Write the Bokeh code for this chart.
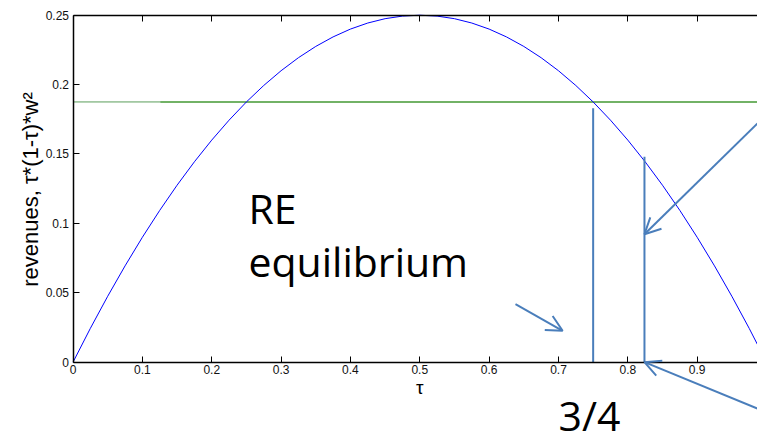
import math
from bokeh.plotting import figure
from bokeh.models import Range1d, LinearAxis, FixedTicker, Label, Arrow, OpenHead
from bokeh.embed import file_html
from bokeh.resources import INLINE

# --- data ---
tau = [0.0, 0.025, 0.05, 0.075, 0.1, 0.125, 0.15, 0.175, 0.2, 0.225, 0.25,
       0.275, 0.3, 0.325, 0.35, 0.375, 0.4, 0.425, 0.45, 0.475, 0.5,
       0.525, 0.55, 0.575, 0.6, 0.625, 0.65, 0.675, 0.7, 0.725, 0.75,
       0.775, 0.8, 0.825, 0.85, 0.875, 0.9, 0.925, 0.95, 0.975, 1.0]
revenue = [0.0, 0.024375, 0.0475, 0.069375, 0.09, 0.109375, 0.1275, 0.144375, 0.16, 0.174375, 0.1875,
           0.199375, 0.21, 0.219375, 0.2275, 0.234375, 0.24, 0.244375, 0.2475, 0.249375, 0.25,
           0.249375, 0.2475, 0.244375, 0.24, 0.234375, 0.2275, 0.219375, 0.21, 0.199375, 0.1875,
           0.174375, 0.16, 0.144375, 0.1275, 0.109375, 0.09, 0.069375, 0.0475, 0.024375, 0.0]

x_ticks = [0, 0.1, 0.2, 0.3, 0.4, 0.5, 0.6, 0.7, 0.8, 0.9]
x_tick_labels = ["0", "0.1", "0.2", "0.3", "0.4", "0.5", "0.6", "0.7", "0.8", "0.9"]
y_ticks = [0, 0.05, 0.1, 0.15, 0.2, 0.25]
y_tick_labels = ["0", "0.05", "0.1", "0.15", "0.2", "0.25"]

green_level = 0.1875
green_thin_x = [0.0, 0.987]
green_thick_x = [0.126, 0.987]

vline_x = [0.75, 0.824]
vline_top = [0.183, 0.148]

arrow_x_start = [0.987, 0.638, 0.987]
arrow_y_start = [0.172, 0.0418, -0.0334]
arrow_x_end = [0.824, 0.706, 0.824]
arrow_y_end = [0.0922, 0.0226, 0.0]

texts = ["RE", "equilibrium", "3/4"]
text_x = [0.253, 0.253, 0.700]
text_y = [0.111, 0.073, -0.038]

X_MIN, X_MAX = -0.1046, 0.987
Y_MIN, Y_MAX = -0.0550, 0.2606

p = figure(width=757, height=438, output_backend="svg", toolbar_location=None,
           x_range=Range1d(X_MIN, X_MAX), y_range=Range1d(Y_MIN, Y_MAX),
           x_axis_location=None, y_axis_location=None,
           min_border_left=0, min_border_right=0, min_border_top=0, min_border_bottom=0)
p.grid.visible = False
p.outline_line_color = None
p.background_fill_color = "white"
p.border_fill_color = "white"

TICK_FONT = "Liberation Sans"


def style(ax):
    ax.axis_line_color = "black"
    ax.axis_line_width = 1.5
    ax.major_tick_in = 6
    ax.major_tick_out = 0
    ax.major_tick_line_color = "black"
    ax.minor_tick_line_color = None
    ax.major_label_text_font = TICK_FONT
    ax.major_label_text_font_size = "12px"
    ax.major_label_text_color = "#111111"


xa = LinearAxis(ticker=FixedTicker(ticks=x_ticks), fixed_location=0, bounds=(0, X_MAX))
xa.major_label_overrides = {t: l for t, l in zip(x_ticks, x_tick_labels)}
style(xa)
xa.major_label_standoff = 3
p.add_layout(xa, "below")

ya = LinearAxis(ticker=FixedTicker(ticks=y_ticks), fixed_location=0, bounds=(0, 0.25))
ya.major_label_overrides = {t: l for t, l in zip(y_ticks, y_tick_labels)}
style(ya)
ya.major_label_standoff = 4
p.add_layout(ya, "left")

top = LinearAxis(ticker=FixedTicker(ticks=x_ticks), fixed_location=0.25, bounds=(0, X_MAX))
style(top)
top.major_label_text_font_size = "0px"
top.major_label_text_alpha = 0
p.add_layout(top, "above")

# axis titles
p.add_layout(Label(x=-0.0613, y=0.1244, text="revenues, τ*(1-τ)*w²", angle=math.pi / 2,
                   text_font=TICK_FONT, text_font_size="22px", text_color="black",
                   text_align="center", text_baseline="alphabetic"))
p.add_layout(Label(x=0.5, y=-0.0185, text="τ", text_font=TICK_FONT, text_font_size="19px",
                   text_color="black", text_align="center", text_baseline="alphabetic"))

# green horizontal lines
p.line(green_thin_x, [green_level] * len(green_thin_x), line_color="#5a9e5a", line_width=1)
p.line(green_thick_x, [green_level] * len(green_thick_x), line_color="#72b266", line_width=2)

# revenue curve
p.line(tau, revenue, line_color="#0000ff", line_width=1)

# vertical marker lines
ANN = "#4a7ebb"
p.segment(x0=vline_x, y0=[0] * len(vline_x), x1=vline_x, y1=vline_top,
          line_color=ANN, line_width=2)

for xs, ys, xe, ye in zip(arrow_x_start, arrow_y_start, arrow_x_end, arrow_y_end):
    p.add_layout(Arrow(x_start=xs, y_start=ys, x_end=xe, y_end=ye,
                       line_color=ANN, line_width=2,
                       end=OpenHead(size=16, line_color=ANN, line_width=2)))

for t, x, y in zip(texts, text_x, text_y):
    p.add_layout(Label(x=x, y=y, text=t, text_font="Open Sans",
                       text_font_size="41px", text_color="black",
                       text_baseline="alphabetic"))

open("out.html", "w").write(file_html(p, INLINE))
